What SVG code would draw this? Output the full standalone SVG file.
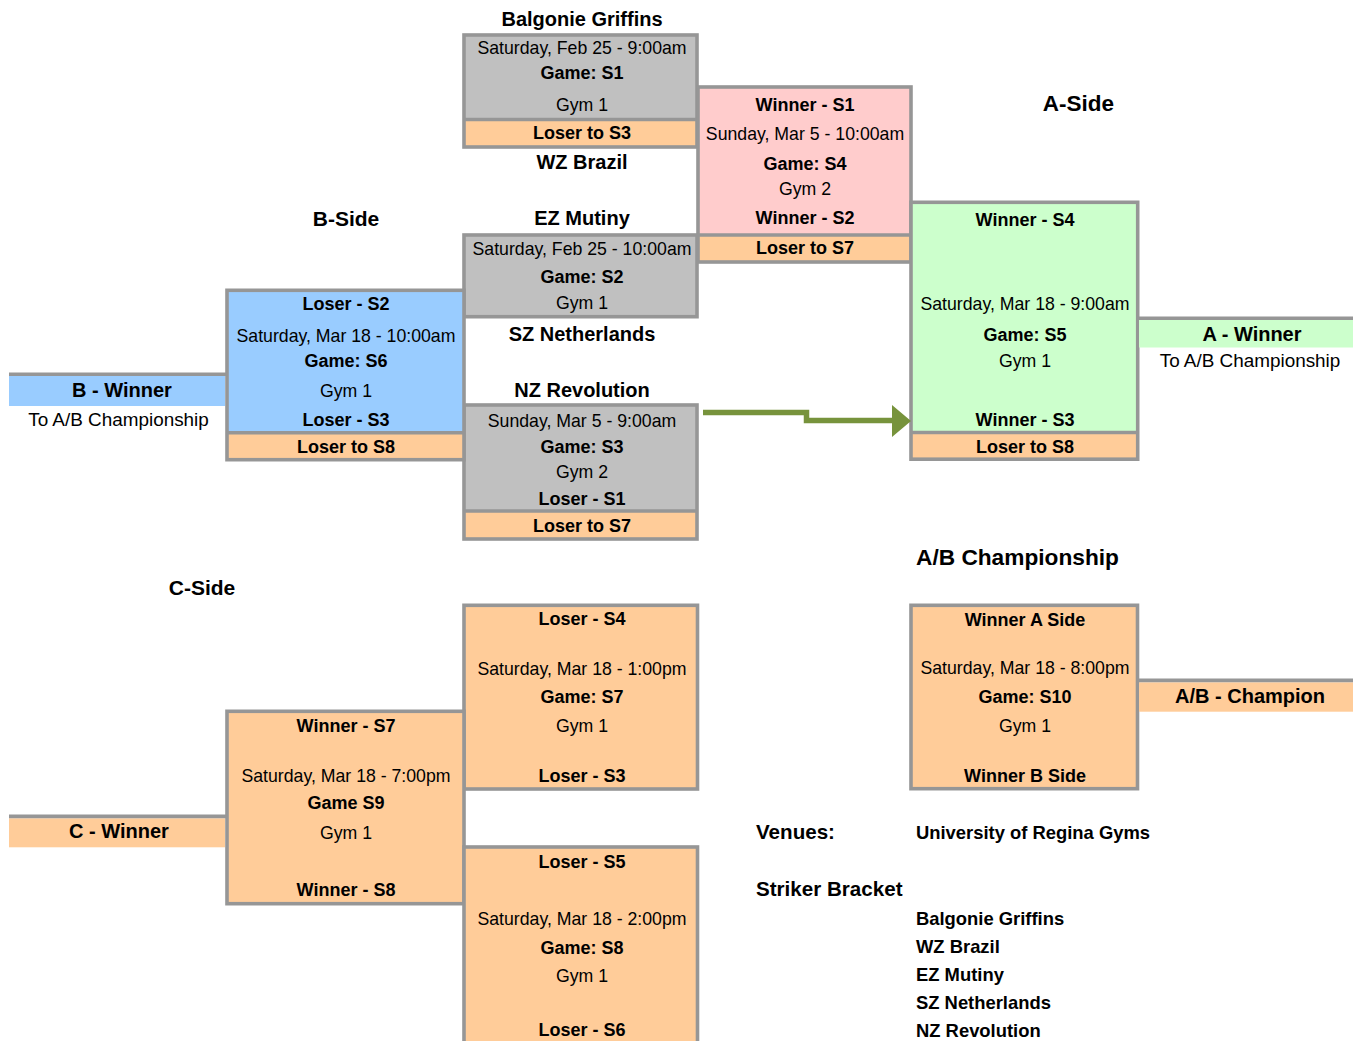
<svg xmlns="http://www.w3.org/2000/svg" width="1353" height="1041" viewBox="0 0 1353 1041">
<style>
text{font-family:"Liberation Sans",Arial,sans-serif;fill:#000;text-anchor:middle}
.h{font-size:21px;font-weight:bold}
.t{font-size:20px;font-weight:bold}
.b{font-size:18px;font-weight:bold}
.r{font-size:17.7px}
.r19{font-size:18.9px}
.l{font-size:18.4px;font-weight:bold;text-anchor:start}
.st{text-anchor:start}
.o{fill:none;stroke:#969696;stroke-width:3.6}
.ln{stroke:#969696;stroke-width:3.6}
.gray{fill:#C0C0C0}.pink{fill:#FFCCCC}.green{fill:#CCFFCC}.blue{fill:#99CCFF}.orange{fill:#FFCC99}
</style>
<rect width="1353" height="1041" fill="#fff"/>

<g id="labels">
<text class="t" x="582" y="26">Balgonie Griffins</text>
<text class="t" x="582" y="169.3">WZ Brazil</text>
<text class="t" x="582" y="225">EZ Mutiny</text>
<text class="t" x="582" y="341">SZ Netherlands</text>
<text class="t" x="582" y="396.7">NZ Revolution</text>
<text class="h" x="346" y="226">B-Side</text>
<text class="h" x="1078.5" y="111" style="font-size:22.5px">A-Side</text>
<text class="h" x="202" y="595">C-Side</text>
<text class="h st" x="916" y="565" style="font-size:22.7px">A/B Championship</text>
<text class="h st" x="756" y="839.3" style="font-size:20.6px">Venues:</text>
<text class="l" x="916" y="839.3">University of Regina Gyms</text>
<text class="h st" x="756" y="895.7" style="font-size:20.6px">Striker Bracket</text>
<text class="l" x="916" y="925">Balgonie Griffins</text>
<text class="l" x="916" y="953.3">WZ Brazil</text>
<text class="l" x="916" y="980.7">EZ Mutiny</text>
<text class="l" x="916" y="1009">SZ Netherlands</text>
<text class="l" x="916" y="1036.7">NZ Revolution</text>
</g>

<g id="S1">
<rect class="gray" x="464" y="35" width="233" height="84.5"/>
<rect class="orange" x="464" y="119.5" width="233" height="27.5"/>
<line class="ln" x1="464" y1="119.5" x2="697" y2="119.5"/>
<rect class="o" x="464" y="35" width="233" height="112"/>
<text class="r" x="582" y="54.3">Saturday, Feb 25 - 9:00am</text>
<text class="b" x="582" y="79">Game: S1</text>
<text class="r" x="582" y="111">Gym 1</text>
<text class="b" x="582" y="139.3">Loser to S3</text>
</g>

<g id="S4">
<rect class="pink" x="698" y="87" width="213" height="148"/>
<rect class="orange" x="698" y="235" width="213" height="27"/>
<line class="ln" x1="698" y1="235" x2="911" y2="235"/>
<rect class="o" x="698" y="87" width="213" height="175"/>
<text class="b" x="805" y="111">Winner - S1</text>
<text class="r" x="805" y="140">Sunday, Mar 5 - 10:00am</text>
<text class="b" x="805" y="170">Game: S4</text>
<text class="r" x="805" y="195">Gym 2</text>
<text class="b" x="805" y="224.3">Winner - S2</text>
<text class="b" x="805" y="254.3">Loser to S7</text>
</g>

<g id="S2">
<rect class="gray" x="464" y="235" width="233" height="81.7"/>
<rect class="o" x="464" y="235" width="233" height="81.7"/>
<text class="r" x="582" y="255">Saturday, Feb 25 - 10:00am</text>
<text class="b" x="582" y="282.7">Game: S2</text>
<text class="r" x="582" y="309">Gym 1</text>
</g>

<g id="S3">
<rect class="gray" x="464" y="405" width="233" height="106"/>
<rect class="orange" x="464" y="511" width="233" height="28"/>
<line class="ln" x1="464" y1="511" x2="697" y2="511"/>
<rect class="o" x="464" y="405" width="233" height="134"/>
<text class="r" x="582" y="426.7">Sunday, Mar 5 - 9:00am</text>
<text class="b" x="582" y="452.7">Game: S3</text>
<text class="r" x="582" y="478.3">Gym 2</text>
<text class="b" x="582" y="505">Loser - S1</text>
<text class="b" x="582" y="531.7">Loser to S7</text>
</g>

<g id="S6">
<rect class="blue" x="227" y="290.3" width="237" height="142.5"/>
<rect class="orange" x="227" y="432.8" width="237" height="26.9"/>
<line class="ln" x1="227" y1="432.8" x2="464" y2="432.8"/>
<rect class="o" x="227" y="290.3" width="237" height="169.4"/>
<text class="b" x="346" y="310">Loser - S2</text>
<text class="r" x="346" y="341.7">Saturday, Mar 18 - 10:00am</text>
<text class="b" x="346" y="366.7">Game: S6</text>
<text class="r" x="346" y="396.7">Gym 1</text>
<text class="b" x="346" y="426">Loser - S3</text>
<text class="b" x="346" y="453.3">Loser to S8</text>
</g>

<g id="S5">
<rect class="green" x="911" y="202.3" width="226.7" height="230.2"/>
<rect class="orange" x="911" y="432.5" width="226.7" height="26.7"/>
<line class="ln" x1="911" y1="432.5" x2="1137.7" y2="432.5"/>
<rect class="o" x="911" y="202.3" width="226.7" height="256.9"/>
<text class="b" x="1025" y="225.7">Winner - S4</text>
<text class="r" x="1025" y="310">Saturday, Mar 18 - 9:00am</text>
<text class="b" x="1025" y="340.7">Game: S5</text>
<text class="r" x="1025" y="366.7">Gym 1</text>
<text class="b" x="1025" y="426">Winner - S3</text>
<text class="b" x="1025" y="453.3">Loser to S8</text>
</g>

<g id="S7">
<rect class="orange" x="464" y="605.3" width="233.5" height="183.7"/>
<rect class="o" x="464" y="605.3" width="233.5" height="183.7"/>
<text class="b" x="582" y="625">Loser - S4</text>
<text class="r" x="582" y="675">Saturday, Mar 18 - 1:00pm</text>
<text class="b" x="582" y="703.3">Game: S7</text>
<text class="r" x="582" y="731.7">Gym 1</text>
<text class="b" x="582" y="781.7">Loser - S3</text>
</g>

<g id="S9">
<rect class="orange" x="227" y="711.3" width="237" height="192.4"/>
<rect class="o" x="227" y="711.3" width="237" height="192.4"/>
<text class="b" x="346" y="732.3">Winner - S7</text>
<text class="r" x="346" y="782.3">Saturday, Mar 18 - 7:00pm</text>
<text class="b" x="346" y="809.3">Game S9</text>
<text class="r" x="346" y="839.3">Gym 1</text>
<text class="b" x="346" y="896">Winner - S8</text>
</g>

<g id="S8">
<rect class="orange" x="464" y="847" width="233.5" height="210"/>
<rect class="o" x="464" y="847" width="233.5" height="210"/>
<text class="b" x="582" y="868.3">Loser - S5</text>
<text class="r" x="582" y="925">Saturday, Mar 18 - 2:00pm</text>
<text class="b" x="582" y="954.3">Game: S8</text>
<text class="r" x="582" y="981.7">Gym 1</text>
<text class="b" x="582" y="1036">Loser - S6</text>
</g>

<g id="S10">
<rect class="orange" x="911" y="605.3" width="226.5" height="183.4"/>
<rect class="o" x="911" y="605.3" width="226.5" height="183.4"/>
<text class="b" x="1025" y="625.7">Winner A Side</text>
<text class="r" x="1025" y="674">Saturday, Mar 18 - 8:00pm</text>
<text class="b" x="1025" y="703.3">Game: S10</text>
<text class="r" x="1025" y="731.7">Gym 1</text>
<text class="b" x="1025" y="782.3">Winner B Side</text>
</g>

<g id="B-Winner">
<rect class="blue" x="9" y="376" width="216" height="30"/>
<line class="ln" x1="9" y1="374.2" x2="227" y2="374.2"/>
<text class="t" x="122" y="396.7">B - Winner</text>
<text class="r19" x="118.5" y="426">To A/B Championship</text>
</g>

<g id="A-Winner">
<rect class="green" x="1139" y="320" width="214" height="27.5"/>
<line class="ln" x1="1137" y1="318.2" x2="1353" y2="318.2"/>
<text class="t" x="1252" y="340.7">A - Winner</text>
<text class="r19" x="1250" y="366.7">To A/B Championship</text>
</g>

<g id="C-Winner">
<rect class="orange" x="9" y="818.3" width="216" height="29"/>
<line class="ln" x1="9" y1="816.4" x2="227" y2="816.4"/>
<text class="t" x="119" y="838.3">C - Winner</text>
</g>

<g id="AB-Champion">
<rect class="orange" x="1139" y="682.3" width="214" height="29.4"/>
<line class="ln" x1="1137" y1="680.4" x2="1353" y2="680.4"/>
<text class="t" x="1250" y="702.7">A/B - Champion</text>
</g>

<g id="connectors">
<polyline points="703,412.5 806.5,412.5 806.5,420.5 893,420.5" fill="none" stroke="#77933C" stroke-width="5.5" stroke-linejoin="miter"/>
<polygon points="892,405 911,421 892,437" fill="#77933C"/>
</g>
</svg>
